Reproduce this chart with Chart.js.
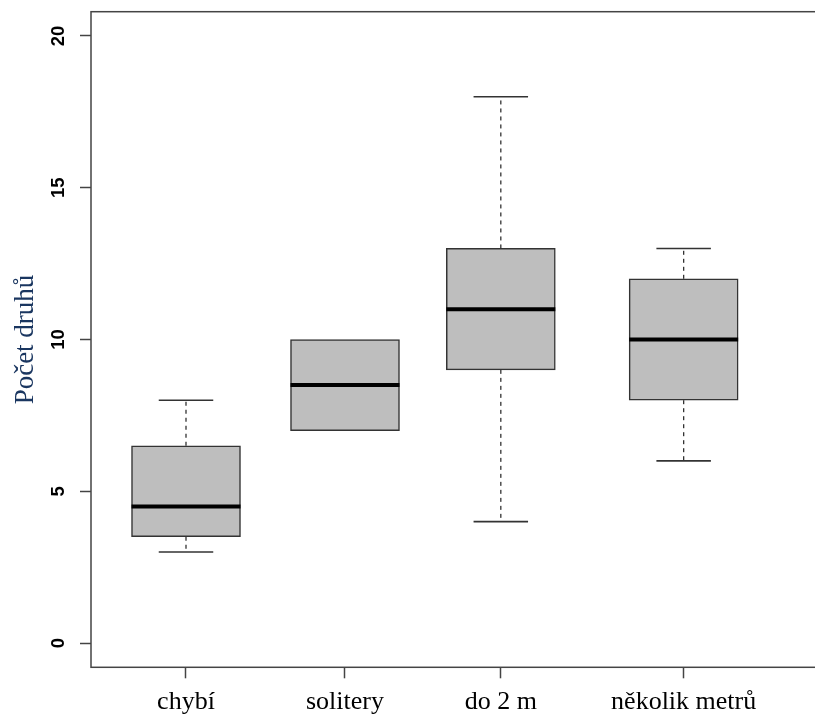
<!DOCTYPE html>
<html>
<head>
<meta charset="utf-8">
<script src="https://cdn.jsdelivr.net/npm/chart.js@4"></script>
<style>
  html, body { margin: 0; padding: 0; background: #fff; overflow: hidden; }
  #wrap { width: 830px; height: 726px; }
</style>
</head>
<body>
<div id="wrap"><canvas id="myChart" width="830" height="726"></canvas></div>
<script>
// hodnoty boxplotu
let kategorie = ['chybí', 'solitery', 'do 2 m', 'několik metrů'];
let poloha = [1, 2, 2.98, 4.13];
let minima = [3, 7, 4, 6];
let q1 = [3.5, 7, 9, 8];
let median = [4.5, 8.5, 11, 10];
let q3 = [6.5, 10, 13, 12];
let maxima = [8, 10, 18, 13];
let yTicks = [0, 5, 10, 15, 20];

const seda = '#444444';

// medián, vousy a zarážky
const boxPlugin = {
    id: 'boxPlugin',
    afterDatasetsDraw(chart){
        const ctx = chart.ctx;
        const x = chart.scales.x;
        const y = chart.scales.y;
        const meta = chart.getDatasetMeta(0);
        ctx.save();
        for (let i = 0; i < poloha.length; i++) {
            const cx = x.getPixelForValue(poloha[i]);
            const half = meta.data[i].width / 2;
            const staple = half / 2;
            ctx.lineCap = 'butt';
            // horní vous
            if (maxima[i] > q3[i]) {
                ctx.strokeStyle = '#333';
                ctx.lineWidth = 1.3;
                ctx.setLineDash([4, 4]);
                ctx.beginPath();
                ctx.moveTo(cx, y.getPixelForValue(q3[i]));
                ctx.lineTo(cx, y.getPixelForValue(maxima[i]));
                ctx.stroke();
                ctx.setLineDash([]);
                ctx.lineWidth = 1.6;
                ctx.beginPath();
                ctx.moveTo(cx - staple, y.getPixelForValue(maxima[i]));
                ctx.lineTo(cx + staple, y.getPixelForValue(maxima[i]));
                ctx.stroke();
            }
            // dolní vous
            if (minima[i] < q1[i]) {
                ctx.strokeStyle = '#333';
                ctx.lineWidth = 1.3;
                ctx.setLineDash([4, 4]);
                ctx.beginPath();
                ctx.moveTo(cx, y.getPixelForValue(q1[i]));
                ctx.lineTo(cx, y.getPixelForValue(minima[i]));
                ctx.stroke();
                ctx.setLineDash([]);
                ctx.lineWidth = 1.6;
                ctx.beginPath();
                ctx.moveTo(cx - staple, y.getPixelForValue(minima[i]));
                ctx.lineTo(cx + staple, y.getPixelForValue(minima[i]));
                ctx.stroke();
            }
            // medián
            ctx.strokeStyle = '#000';
            ctx.lineWidth = 4;
            ctx.beginPath();
            ctx.moveTo(cx - half, y.getPixelForValue(median[i]));
            ctx.lineTo(cx + half, y.getPixelForValue(median[i]));
            ctx.stroke();
        }
        // rámeček
        const a = chart.chartArea;
        ctx.strokeStyle = seda;
        ctx.lineWidth = 1.5;
        ctx.strokeRect(a.left, a.top, a.right - a.left, a.bottom - a.top);
        ctx.restore();
    }
};

const ctx = document.getElementById('myChart').getContext('2d');
const myChart = new Chart(ctx, {
    type: 'bar',
    data: {
        datasets: [{
            data: poloha.map((p, i) => ({ x: p, y: [q1[i], q3[i]] })),
            backgroundColor: '#bebebe',
            borderColor: '#333333',
            borderWidth: 1.5,
            borderSkipped: false,
            barThickness: 109,
            grouped: false
        }]
    },
    options: {
        responsive: false,
        animation: false,
        devicePixelRatio: 1,
        layout: { padding: { top: 11.7, right: 5, left: 0, bottom: 0 } },
        plugins: {
            legend: { display: false },
            tooltip: { enabled: false }
        },
        scales: {
            x: {
                type: 'linear',
                min: 0.4025,
                max: 5.019,
                offset: false,
                afterFit: s => { s.height = 58.7; s.paddingLeft = 0; s.paddingRight = 0; },
                afterBuildTicks: s => { s.ticks = poloha.map(v => ({ value: v })); },
                border: { display: false },
                grid: {
                    offset: false,
                    drawOnChartArea: false,
                    drawTicks: true,
                    tickLength: 11,
                    tickColor: seda,
                    tickWidth: 1.5
                },
                ticks: {
                    autoSkip: false,
                    maxRotation: 0,
                    padding: 8,
                    color: '#000',
                    font: { family: 'Liberation Serif', size: 26 },
                    callback: (v, i) => kategorie[i]
                }
            },
            y: {
                type: 'linear',
                min: -0.8,
                max: 20.8,
                afterFit: s => { s.width = 91; s.paddingTop = 0; s.paddingBottom = 0; },
                afterBuildTicks: s => { s.ticks = yTicks.map(v => ({ value: v })); },
                border: { display: false },
                grid: {
                    drawOnChartArea: false,
                    drawTicks: true,
                    tickLength: 11,
                    tickColor: seda,
                    tickWidth: 1.5
                },
                ticks: {
                    minRotation: 90,
                    maxRotation: 90,
                    crossAlign: 'center',
                    padding: 11,
                    color: '#000',
                    font: { family: 'Liberation Sans', size: 18.5, weight: 'bold' }
                },
                title: {
                    display: true,
                    text: 'Počet druhů',
                    color: '#1a3660',
                    font: { family: 'Liberation Serif', size: 27, weight: 'normal' },
                    padding: { top: 10, bottom: 0 }
                }
            }
        }
    },
    plugins: [boxPlugin]
});
</script>
</body>
</html>
